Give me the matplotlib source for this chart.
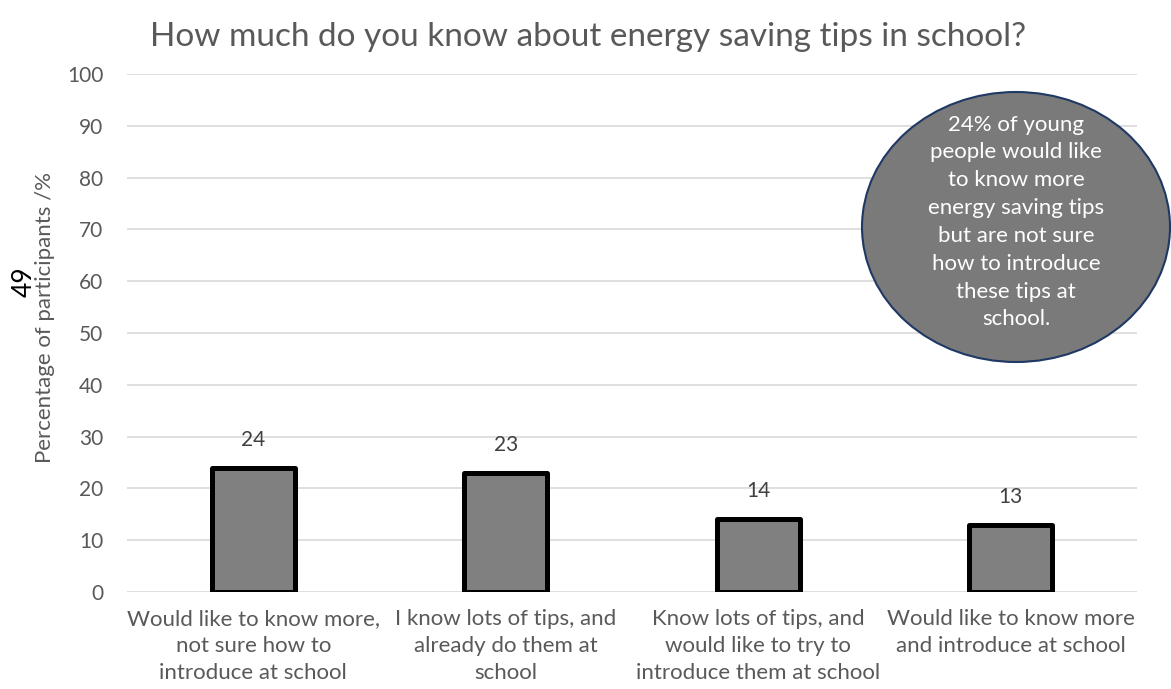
import matplotlib
matplotlib.use('Agg')
import matplotlib.pyplot as plt
from matplotlib.patches import Ellipse

plt.rcParams['font.family'] = ['Lato', 'DejaVu Sans']

categories = ['Would like to know more,\nnot sure how to\nintroduce at school',
              'I know lots of tips, and\nalready do them at\nschool',
              'Know lots of tips, and\nwould like to try to\nintroduce them at school',
              'Would like to know more\nand introduce at school']
values = [24, 23, 14, 13]
yticks = list(range(0, 101, 10))
title = 'How much do you know about energy saving tips in school?'
note = ('24% of young\npeople would like\nto know more\nenergy saving tips\n'
        'but are not sure\nhow to introduce\nthese tips at\nschool.')

fig = plt.figure(figsize=(11.71, 6.89), dpi=100)
ax = fig.add_axes([0.1085, 0.1408, 0.8625, 0.7518])

x = range(len(categories))
bars = ax.bar(x, values, width=0.33, color='#808080', edgecolor='black',
              linewidth=3.6, joinstyle='round', zorder=3)
for b, v in zip(bars, values):
    ax.annotate(str(v), (b.get_x() + b.get_width() / 2, v), xytext=(0, 13),
                textcoords='offset points', ha='center', va='bottom',
                fontsize=15, color='#404040')

ax.set_xlim(-0.5, len(categories) - 0.5)
ax.set_ylim(0, 100)
ax.set_yticks(yticks)
ax.yaxis.grid(True, color='#d9d9d9', linewidth=1.2, zorder=0)
ax.set_axisbelow(True)
for s in ax.spines.values():
    s.set_visible(False)
ax.tick_params(axis='x', length=0, labelsize=16, colors='#595959', pad=12)
ax.tick_params(axis='y', length=0, labelsize=15, colors='#595959', pad=17)
ax.set_xticks(list(x))
ax.set_xticklabels(categories, linespacing=1.45)
ax.set_ylabel('Percentage of participants /%', fontsize=16, color='#595959')
ax.yaxis.set_label_coords(-0.071, 0.53)

fig.text(0.502, 0.947, title, ha='center', va='center', fontsize=24, color='#595959')
fig.text(0.021, 0.591, '49', rotation=90, ha='center', va='center', fontsize=19, color='black')

ell = Ellipse((1016 / 1171, 1 - 227 / 689), 308 / 1171, 270 / 689, transform=fig.transFigure,
              facecolor='#7a7a7a', edgecolor='#1f3864', linewidth=1.5, zorder=5)
fig.patches.append(ell)
fig.text(1016 / 1171, 1 - 222 / 689, note, ha='center', va='center', fontsize=16,
         color='white', linespacing=1.49, zorder=6)

fig.savefig('out.png', dpi=100)
